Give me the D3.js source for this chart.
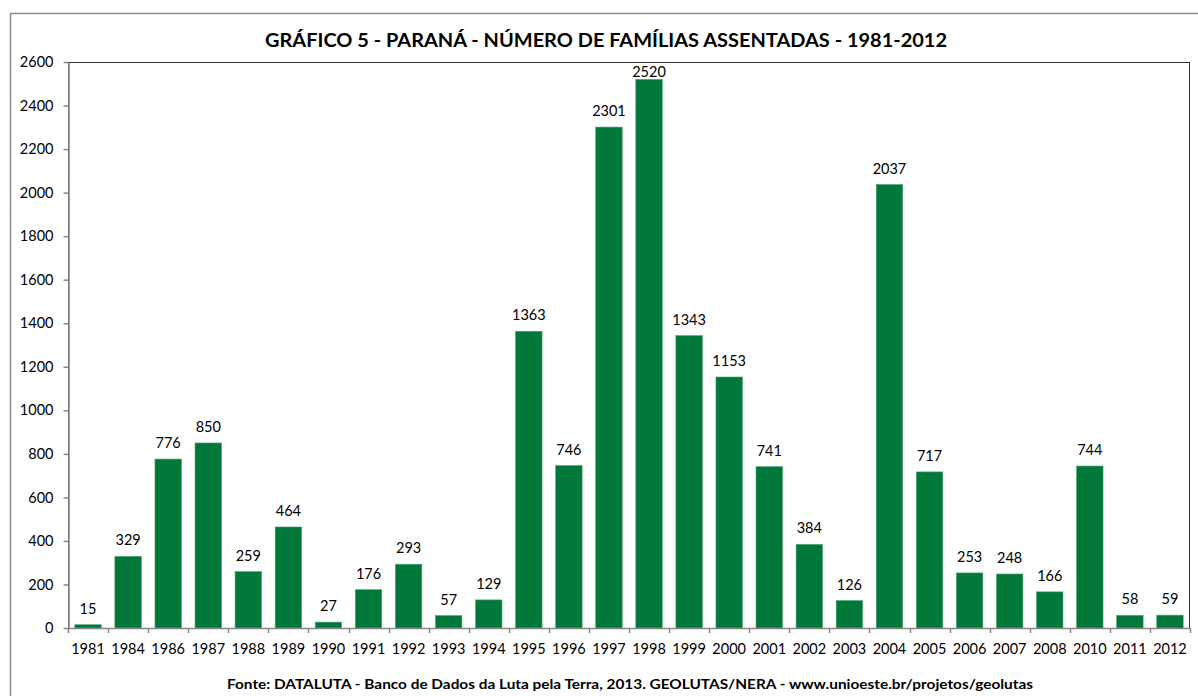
<!DOCTYPE html>
<html><head><meta charset="utf-8">
<script src="https://cdn.jsdelivr.net/npm/d3@7"></script>
<style>html,body{margin:0;padding:0;background:#fff}svg{display:block}</style>
</head><body>
<svg id="c" width="1198" height="696"></svg>
<script>
const categories = ["1981","1984","1986","1987","1988","1989","1990","1991","1992","1993","1994","1995","1996","1997","1998","1999","2000","2001","2002","2003","2004","2005","2006","2007","2008","2010","2011","2012"];
const values = [15,329,776,850,259,464,27,176,293,57,129,1363,746,2301,2520,1343,1153,741,384,126,2037,717,253,248,166,744,58,59];
const yTicks = [0,200,400,600,800,1000,1200,1400,1600,1800,2000,2200,2400,2600];
const titleText = "GRÁFICO 5 - PARANÁ - NÚMERO DE FAMÍLIAS ASSENTADAS - 1981-2012";
const footerText = "Fonte: DATALUTA - Banco de Dados da Luta pela Terra, 2013. GEOLUTAS/NERA - www.unioeste.br/projetos/geolutas";

const svg = d3.select("#c");
const font = "Lato, 'Open Sans', sans-serif";
const L = 68, R = 1190, T = 62, B = 628;

svg.append("rect").attr("x",10.5).attr("y",13.5).attr("width",1200).attr("height",700)
  .attr("fill","#fff").attr("stroke","#8c8c8c").attr("stroke-width",1.5);

const x = d3.scaleBand().domain(categories).range([L,R]).paddingInner(0.34).paddingOuter(0.17);
const y = d3.scaleLinear().domain([0,2600]).range([B,T]);

// plot area border
svg.append("rect").attr("x",L+0.5).attr("y",T+0.5).attr("width",R-L-1).attr("height",B-T)
  .attr("fill","none").attr("stroke","#333").attr("stroke-width",1);

// bars
svg.append("g").selectAll("rect").data(values).join("rect")
  .attr("x",(d,i)=>x(categories[i]))
  .attr("y",d=>y(d))
  .attr("width",x.bandwidth())
  .attr("height",d=>B-y(d))
  .attr("fill","#00783a")
  .attr("stroke","#4d9f6e").attr("stroke-width",0.6);

// y axis
const yAxis = svg.append("g").attr("transform",`translate(${L+0.5},0)`)
  .call(d3.axisLeft(y).tickValues(yTicks).tickFormat(d3.format("d")).tickSize(5).tickPadding(10).tickSizeOuter(0));
yAxis.select(".domain").attr("stroke","#888").attr("stroke-width",1.5);
yAxis.selectAll(".tick line").attr("stroke","#888").attr("stroke-width",1.5);
yAxis.selectAll("text").attr("font-family",font).attr("font-size",14.5).attr("fill","#000");

// x axis: ticks at band boundaries
const xAxisG = svg.append("g");
xAxisG.append("line").attr("x1",L).attr("x2",R).attr("y1",B+0.5).attr("y2",B+0.5)
  .attr("stroke","#888").attr("stroke-width",1.5);
const step = x.step();
const boundaries = categories.map(c=>x(c) - x.paddingOuter()*step).concat([R]);
xAxisG.selectAll(".bt").data(boundaries).join("line").attr("class","bt")
  .attr("x1",d=>Math.round(d)+0.5).attr("x2",d=>Math.round(d)+0.5)
  .attr("y1",B).attr("y2",B+5).attr("stroke","#888").attr("stroke-width",1.5);
xAxisG.selectAll("text").data(categories).join("text")
  .attr("x",c=>x(c)+x.bandwidth()/2).attr("y",654)
  .attr("text-anchor","middle").attr("font-family",font).attr("font-size",14.5).attr("fill","#000")
  .text(c=>c);

// value labels
svg.append("g").selectAll("text").data(values).join("text")
  .attr("x",(d,i)=>x(categories[i])+x.bandwidth()/2)
  .attr("y",d=>Math.max(y(d)-11, T+15))
  .attr("text-anchor","middle").attr("font-family",font).attr("font-size",14.5).attr("fill","#000")
  .text(d=>d);

// title
svg.append("text").attr("x",606).attr("y",47).attr("text-anchor","middle")
  .attr("font-family",font).attr("font-weight","bold").attr("font-size",19).attr("fill","#000")
  .attr("textLength",682).attr("lengthAdjust","spacingAndGlyphs")
  .text(titleText);

// footer
svg.append("text").attr("x",630).attr("y",689).attr("text-anchor","middle")
  .attr("font-family",font).attr("font-weight","bold").attr("font-size",13.5).attr("fill","#000")
  .attr("textLength",806).attr("lengthAdjust","spacingAndGlyphs")
  .text(footerText);
</script>
</body></html>
